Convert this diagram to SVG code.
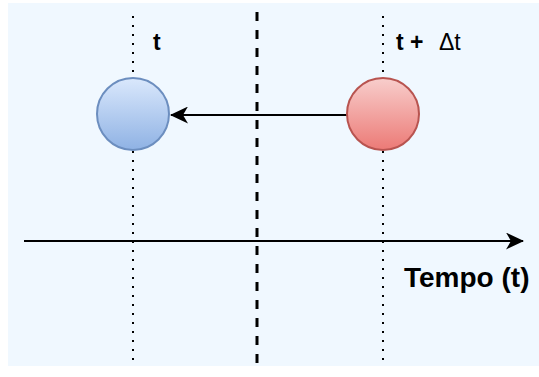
<svg xmlns="http://www.w3.org/2000/svg" width="539" height="377" viewBox="0 0 539 377">
  <style>
    .guide { stroke: #000; stroke-width: 2; stroke-dasharray: 2 7; fill: none; }
    .divider { stroke: #000; stroke-width: 3; stroke-dasharray: 9 9; fill: none; }
    .conn { stroke: #000; stroke-width: 2; fill: none; }
    .lbl { font-family: "Liberation Sans", Arial, sans-serif; fill: #000; }
  </style>
  <defs>
    <linearGradient id="gBlue" x1="0" y1="0" x2="0" y2="1">
      <stop offset="0" stop-color="#dae8fc"/>
      <stop offset="1" stop-color="#8fb2e4"/>
    </linearGradient>
    <linearGradient id="gRed" x1="0" y1="0" x2="0" y2="1">
      <stop offset="0" stop-color="#f8cecc"/>
      <stop offset="1" stop-color="#ec7a76"/>
    </linearGradient>
    <marker id="arrow" viewBox="0 0 18 17" refX="17" refY="8.5" markerWidth="18" markerHeight="17" markerUnits="userSpaceOnUse" orient="auto">
      <path d="M0,0 L18,8.5 L0,17 L5,8.5 Z" fill="#000"/>
    </marker>
  </defs>

  <!-- background panel -->
  <rect x="8" y="3" width="531" height="363" fill="#f0f8ff"/>

  <!-- guide lines -->
  <g id="guides">
    <line class="guide" x1="133" y1="16" x2="133" y2="366"/>
    <line class="guide" x1="383" y1="16" x2="383" y2="366"/>
    <line class="divider" x1="257" y1="12" x2="257" y2="366"/>
  </g>

  <!-- connectors -->
  <g id="connectors">
    <line class="conn" x1="347" y1="115" x2="171" y2="115" marker-end="url(#arrow)"/>
    <line class="conn" x1="24" y1="241" x2="523" y2="241" marker-end="url(#arrow)"/>
  </g>

  <g id="node-t">
    <circle cx="133" cy="114" r="36" fill="url(#gBlue)" stroke="#6c8ebf" stroke-width="2"/>
  </g>
  <g id="node-tdt">
    <circle cx="383" cy="114" r="36" fill="url(#gRed)" stroke="#b85450" stroke-width="2"/>
  </g>

  <!-- labels -->
  <g id="labels">
    <text class="lbl" x="153" y="50" font-size="23" font-weight="bold">t</text>
    <text class="lbl" x="396" y="50" font-size="23" font-weight="bold">t +</text>
    <text class="lbl" x="439" y="50" font-size="23">Δt</text>
    <text class="lbl" x="404" y="287" font-size="28" font-weight="bold">Tempo (t)</text>
  </g>
</svg>
